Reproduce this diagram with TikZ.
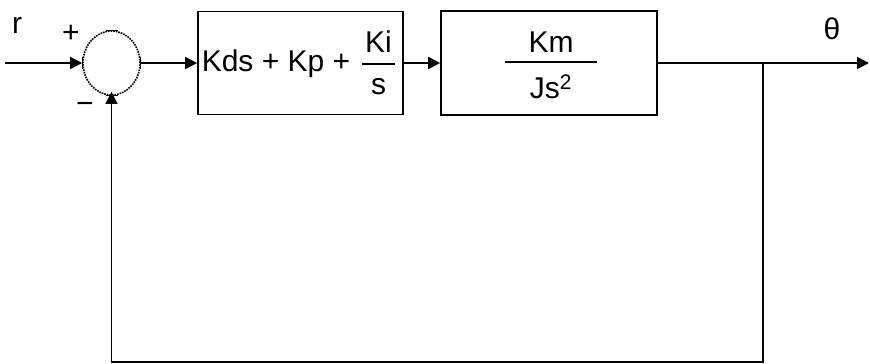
\documentclass[tikz,border=0pt]{standalone}
\usepackage{fontspec}
\setmainfont{Liberation Sans}
\usetikzlibrary{arrows.meta,shapes.geometric}
\tikzset{
  wire/.style={line width=1.6pt},
  fbwire/.style={line width=1.2pt},
  arr/.style={-{Triangle[length=12pt,width=12pt]}},
  blk/.style={draw,line width=1.6pt,inner sep=0pt},
  lbl/.style={font=\fontsize{30}{34}\selectfont,inner sep=0pt},
  fracbar/.style={line width=1.8pt},
  tick/.style={line width=1.2pt}
}
\begin{document}
\begin{tikzpicture}[x=1pt,y=-1pt]
\useasboundingbox (0,0) rectangle (870,364);
% summing junction
\node[ellipse,draw,densely dotted,line width=1.6pt,minimum width=57pt,minimum height=64pt,inner sep=0pt] (sum) at (111.5,63) {};
\draw[tick] ([yshift=-6pt]sum.west) -- ([yshift=6pt]sum.west);
\draw[tick] ([yshift=-6pt]sum.east) -- ([yshift=6pt]sum.east);
\draw[tick] ([xshift=-6pt]sum.north) -- ([xshift=6pt]sum.north);
\draw[tick] ([xshift=-6pt]sum.south) -- ([xshift=6pt]sum.south);
% blocks
\node[blk,minimum width=205pt,minimum height=103pt] (b1) at (300.5,63) {};
\node[blk,minimum width=216pt,minimum height=104pt] (b2) at (549,63) {};
% block 1 contents
\node[lbl] (pid) at (276,64) {Kds + Kp +};
\node[lbl] (ki) at (378.5,42) {Ki};
\node[lbl] (kis) at (378.5,87) {s};
\coordinate (kbl) at (362,64);
\coordinate (kbr) at (395,64);
\draw[fracbar] (kbl) -- (kbr);
% block 2 contents
\node[lbl] (km) at (551,42) {Km};
\node[lbl] (js) at (551,87) {Js\textsuperscript{2}};
\coordinate (mbl) at (505,62);
\coordinate (mbr) at (597,62);
\draw[fracbar] (mbl) -- (mbr);
% labels
\node[lbl] (rlab) at (17,25) {r};
\node[lbl] (plus) at (71,34) {+};
\node[lbl] (minus) at (85,108) {−};
\node[lbl] (theta) at (832,29) {θ};
% connectors
\coordinate (in) at (5,63);
\coordinate (out) at (869,63);
\coordinate (br) at (763,63);
\coordinate (bl) at (763,362);
\coordinate (bl2) at (sum.south |- bl);
\draw[wire,arr] (in) -- (sum.west);
\draw[wire,arr] (sum.east) -- (b1.west);
\draw[wire,arr] (b1.east) -- (b2.west);
\draw[wire,arr] (b2.east) -- (out);
\draw[fbwire,arr] (br) -- (bl) -- (bl2) -- ([yshift=4pt]sum.south);
\end{tikzpicture}
\end{document}
